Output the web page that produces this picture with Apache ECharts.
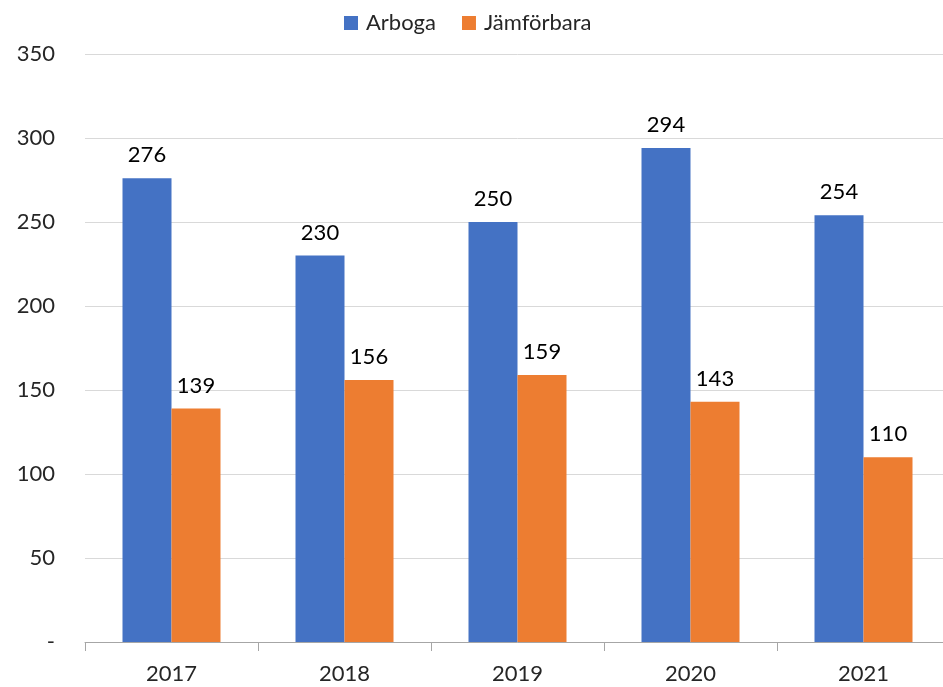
<!DOCTYPE html>
<html>
<head>
<meta charset="utf-8">
<script src="https://cdn.jsdelivr.net/npm/echarts@6/dist/echarts.min.js"></script>
<style>
html,body{margin:0;padding:0;background:#fff;overflow:hidden;}
#main{width:950px;height:687px;}
</style>
</head>
<body>
<div id="main"></div>
<script>
var years = ['2017', '2018', '2019', '2020', '2021'];
var arboga = [276, 230, 250, 294, 254];
var jamforbara = [139, 156, 159, 143, 110];

var font = 'Lato, "Open Sans", sans-serif';

var myChart = echarts.init(document.getElementById('main'));

// 图表比窗口略宽，右边被裁掉一点
var option = {
	backgroundColor: '#fff',
	textStyle: { fontFamily: font },
	legend: {
		top: 7,
		left: 339,
		itemWidth: 14,
		itemHeight: 14,
		itemGap: 26,
		icon: 'rect',
		textStyle: { fontSize: 22, color: '#262626', fontFamily: font, padding: [0, 0, 0, 3] },
		data: ['Arboga', 'Jämförbara']
	},
	grid: {
		left: 85,
		right: 0,
		top: 54,
		bottom: 45
	},
	xAxis: {
		type: 'category',
		data: years,
		axisLine: { lineStyle: { color: '#a6a6a6' } },
		axisTick: { show: true, length: 9, lineStyle: { color: '#a6a6a6' } },
		axisLabel: { fontSize: 22, color: '#262626', margin: 21, fontFamily: font }
	},
	yAxis: {
		type: 'value',
		min: 0,
		max: 350,
		interval: 50,
		axisLine: { show: false },
		axisTick: { show: false },
		splitLine: { lineStyle: { color: '#d9d9d9' } },
		axisLabel: {
			fontSize: 22,
			color: '#262626',
			margin: 30,
			fontFamily: font,
			formatter: function (v) { return v === 0 ? '-' : v; }
		}
	},
	series: [{
		name: 'Arboga',
		type: 'bar',
		data: arboga,
		barWidth: 49,
		barGap: '0%',
		itemStyle: { color: '#4472c4' },
		label: { show: true, position: 'top', distance: 12, fontSize: 22, color: '#000', fontFamily: font }
	}, {
		name: 'Jämförbara',
		type: 'bar',
		data: jamforbara,
		barWidth: 49,
		barGap: '0%',
		itemStyle: { color: '#ed7d31' },
		label: { show: true, position: 'top', distance: 12, fontSize: 22, color: '#000', fontFamily: font }
	}]
};

myChart.setOption(option);
</script>
</body>
</html>
